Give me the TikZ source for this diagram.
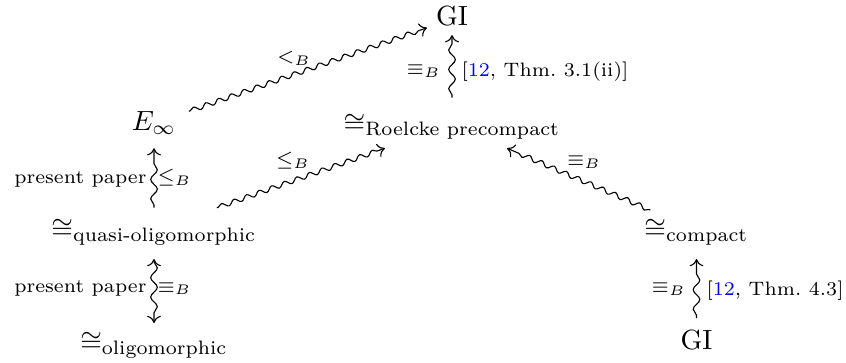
\documentclass[tikz,border=0pt]{standalone}
\usepackage{amsmath}
\usepackage{xcolor}
\usetikzlibrary{decorations.pathmorphing,arrows.meta,calc}
\begin{document}
\begin{tikzpicture}[x=0.36pt,y=-0.36pt,
  obj/.style={inner sep=0pt, text height=6pt, text depth=1pt, anchor=center},
  lab/.style={inner sep=0pt, font=\scriptsize},
  sqd/.style={decorate, decoration={snake, amplitude=0.85pt, segment length=4.8pt, pre length=0.5pt, post length=3pt}},
  sqv/.style={decorate, decoration={snake, amplitude=1.2pt, segment length=7pt, pre length=1pt, post length=2.5pt}},
  tip/.style={-{Computer Modern Rightarrow[length=2.6pt,width=5pt]}},
  tips/.style={{Computer Modern Rightarrow[length=2.6pt,width=5pt]}-{Computer Modern Rightarrow[length=2.6pt,width=5pt]}}
]
\useasboundingbox (0,0) rectangle (846,363);
% objects
\node[obj] (gia)  at (452,19)    {GI};
\node[obj] (einf) at (154,123.5) {$E_\infty$};
\node[obj] (rp)   at (452,124.5) {$\cong_{\text{Roelcke precompact}}$};
\node[obj] (qo)   at (154,230)   {$\cong_{\text{quasi-oligomorphic}}$};
\node[obj] (cpt)  at (696.5,230) {$\cong_{\text{compact}}$};
\node[obj] (oli)  at (154,343)   {$\cong_{\text{oligomorphic}}$};
\node[obj] (gib)  at (696.5,343) {GI};
% connectors
\draw[sqd,tip] ($(einf)!0.117!(gia)$) -- ($(einf)!0.916!(gia)$);
\draw[sqv,tip] ($(rp)!0.254!(gia)$) -- ($(rp)!0.847!(gia)$);
\draw[sqd,tip] ($(qo)!0.211!(rp)$) -- ($(qo)!0.775!(rp)$);
\draw[sqd,tip] ($(cpt)!0.189!(rp)$) -- ($(cpt)!0.775!(rp)$);
\draw[sqv,tip] ($(qo)!0.209!(einf)$) -- ($(qo)!0.768!(einf)$);
\draw[sqv,tips] ($(qo)!0.257!(oli)$) -- ($(qo)!0.823!(oli)$);
\draw[sqv,tip] ($(gib)!0.221!(cpt)$) -- ($(gib)!0.743!(cpt)$);
% labels
\node[lab,anchor=base] (l1) at (294,63) {$<_B$};
\node[lab,anchor=base east] (l2) at (441,75) {$\equiv_B$};
\node[lab,anchor=base west] (l3) at (461,77) {[\textcolor{blue}{12}, Thm.~3.1(ii)]};
\node[lab,anchor=base] (l4) at (293,166) {$\leq_B$};
\node[lab,anchor=base] (l5) at (584,166) {$\equiv_B$};
\node[lab,anchor=base east] (l6) at (147,184) {present paper};
\node[lab,anchor=base west] (l7) at (157,183) {$\leq_B$};
\node[lab,anchor=base east] (l8) at (147,293) {present paper};
\node[lab,anchor=base west] (l9) at (157,292) {$\equiv_B$};
\node[lab,anchor=base east] (l10) at (686,293) {$\equiv_B$};
\node[lab,anchor=base west] (l11) at (706,296) {[\textcolor{blue}{12}, Thm.~4.3]};
\end{tikzpicture}
\end{document}
